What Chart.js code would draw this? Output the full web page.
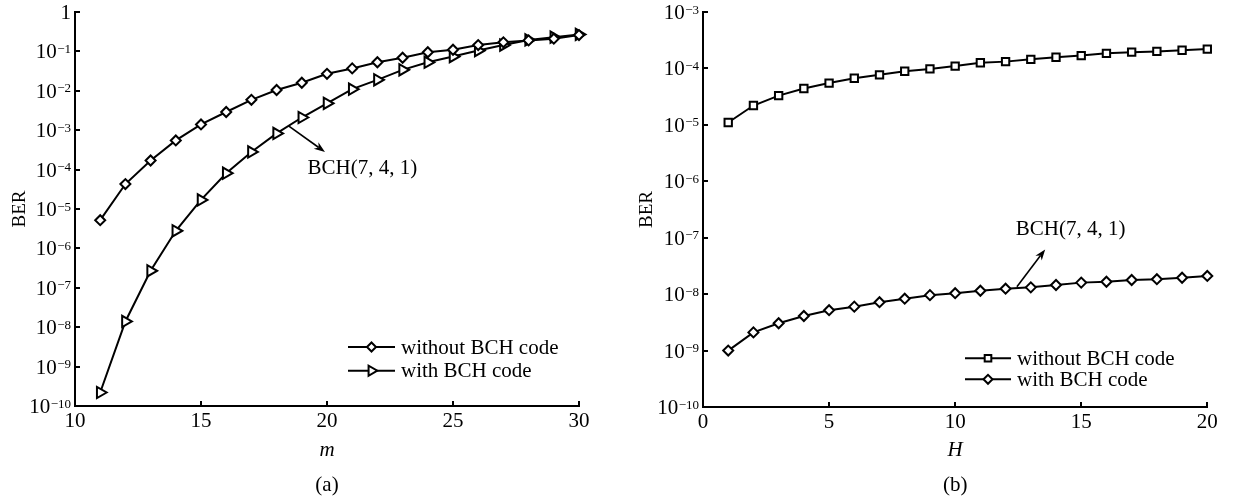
<!DOCTYPE html>
<html>
<head>
<meta charset="utf-8">
<script src="https://cdn.jsdelivr.net/npm/chart.js@4.4.0/dist/chart.umd.min.js"></script>
<style>
  html, body { margin: 0; padding: 0; background: #fff; }
  body { width: 1235px; height: 498px; position: relative; overflow: hidden; }
  .box { position: absolute; top: 0; height: 498px; }
  #boxA { left: 0; width: 617px; }
  #boxB { left: 617px; width: 618px; }
</style>
</head>
<body>
<div class="box" id="boxA"><canvas id="chartA"></canvas></div>
<div class="box" id="boxB"><canvas id="chartB"></canvas></div>
<script>
// ---------- data (a) ----------
const mValues = [11,12,13,14,15,16,17,18,19,20,21,22,23,24,25,26,27,28,29,30];
const berWithoutA = [5.2e-6, 4.3e-5, 1.7e-4, 5.5e-4, 1.4e-3, 2.9e-3, 5.9e-3, 1.05e-2, 1.6e-2, 2.7e-2,
                     3.7e-2, 5.3e-2, 6.9e-2, 9.5e-2, 0.11, 0.145, 0.17, 0.19, 0.21, 0.26];
const berWithA = [2.2e-10, 1.4e-8, 2.7e-7, 2.8e-6, 1.7e-5, 8.1e-5, 2.8e-4, 8.3e-4, 2.1e-3, 4.8e-3,
                  1.1e-2, 1.9e-2, 3.4e-2, 5.3e-2, 7.4e-2, 0.105, 0.145, 0.195, 0.23, 0.27];
const yTickValuesA = [1, 1e-1, 1e-2, 1e-3, 1e-4, 1e-5, 1e-6, 1e-7, 1e-8, 1e-9, 1e-10];
const yTickLabelsA = ['1', '10^\u22121', '10^\u22122', '10^\u22123', '10^\u22124', '10^\u22125',
                      '10^\u22126', '10^\u22127', '10^\u22128', '10^\u22129', '10^\u221210'];
const xTickLabelsA = ['10', '15', '20', '25', '30'];

// ---------- data (b) ----------
const hValues = [1,2,3,4,5,6,7,8,9,10,11,12,13,14,15,16,17,18,19,20];
const berWithoutB = [1.1e-5, 2.2e-5, 3.3e-5, 4.4e-5, 5.5e-5, 6.7e-5, 7.7e-5, 8.9e-5, 9.8e-5, 1.1e-4,
                     1.26e-4, 1.32e-4, 1.45e-4, 1.58e-4, 1.69e-4, 1.85e-4, 1.94e-4, 2.0e-4, 2.1e-4, 2.2e-4];
const berWithB = [1.0e-9, 2.1e-9, 3.05e-9, 4.1e-9, 5.2e-9, 6.0e-9, 7.2e-9, 8.3e-9, 9.6e-9, 1.04e-8,
                  1.15e-8, 1.25e-8, 1.32e-8, 1.45e-8, 1.6e-8, 1.66e-8, 1.78e-8, 1.84e-8, 1.95e-8, 2.1e-8];
const yTickValuesB = [1e-3, 1e-4, 1e-5, 1e-6, 1e-7, 1e-8, 1e-9, 1e-10];
const yTickLabelsB = ['10^\u22123', '10^\u22124', '10^\u22125', '10^\u22126', '10^\u22127',
                      '10^\u22128', '10^\u22129', '10^\u221210'];
const xTickLabelsB = ['0', '5', '10', '15', '20'];

const seriesNames = ['without BCH code', 'with BCH code'];
const annotationText = 'BCH(7, 4, 1)';

const FONT = '"Liberation Serif", "Times New Roman", serif';
const BLACK = '#000';

function toPoints(xs, ys) { return xs.map((x, i) => ({ x: x, y: ys[i] })); }

// plugin: y tick labels with superscripts, legend, annotation arrow, caption
const extras = {
  id: 'extras',
  afterDraw(chart, args, opts) {
    const ctx = chart.ctx;
    const xs = chart.scales.x, ys = chart.scales.y;
    ctx.save();

    // y tick labels (power-of-ten with superscript exponent)
    ctx.fillStyle = BLACK;
    const rightEdge = ys.right - 4;
    opts.yTicks.forEach((v, i) => {
      const py = ys.getPixelForValue(v);
      const parts = opts.yLabels[i].split('^');
      ctx.textAlign = 'right';
      ctx.textBaseline = 'alphabetic';
      if (parts.length === 1) {
        ctx.font = '21px ' + FONT;
        ctx.fillText(parts[0], rightEdge, py + 7);
      } else {
        ctx.font = '13px ' + FONT;
        const ew = ctx.measureText(parts[1]).width;
        ctx.fillText(parts[1], rightEdge, py + 1.5);
        ctx.font = '21px ' + FONT;
        ctx.fillText(parts[0], rightEdge - ew - 0.5, py + 7);
      }
    });

    // annotation
    const a = opts.arrow;
    const x1 = xs.getPixelForValue(a.from[0]), y1 = ys.getPixelForValue(a.from[1]);
    const x2 = xs.getPixelForValue(a.to[0]), y2 = ys.getPixelForValue(a.to[1]);
    const ang = Math.atan2(y2 - y1, x2 - x1);
    const hl = 11, hw = 4;
    ctx.strokeStyle = BLACK; ctx.fillStyle = BLACK; ctx.lineWidth = 1.6;
    ctx.beginPath();
    ctx.moveTo(x1, y1);
    ctx.lineTo(x2 - Math.cos(ang) * hl * 0.7, y2 - Math.sin(ang) * hl * 0.7);
    ctx.stroke();
    ctx.beginPath();
    ctx.moveTo(x2, y2);
    ctx.lineTo(x2 - Math.cos(ang) * hl + Math.sin(ang) * hw, y2 - Math.sin(ang) * hl - Math.cos(ang) * hw);
    ctx.lineTo(x2 - Math.cos(ang) * hl * 0.7, y2 - Math.sin(ang) * hl * 0.7);
    ctx.lineTo(x2 - Math.cos(ang) * hl - Math.sin(ang) * hw, y2 - Math.sin(ang) * hl + Math.cos(ang) * hw);
    ctx.closePath();
    ctx.fill();
    ctx.font = '21px ' + FONT;
    ctx.textBaseline = 'middle';
    ctx.textAlign = a.textAlign;
    ctx.fillText(annotationText, xs.getPixelForValue(a.text[0]), ys.getPixelForValue(a.text[1]));

    // legend
    const L = opts.legend;
    chart.data.datasets.forEach((ds, i) => {
      const y = L.y + i * L.dy;
      ctx.strokeStyle = BLACK; ctx.lineWidth = 2;
      ctx.beginPath(); ctx.moveTo(L.x1, y); ctx.lineTo(L.x2, y); ctx.stroke();
      ctx.fillStyle = '#fff'; ctx.strokeStyle = BLACK; ctx.lineWidth = 2;
      Chart.helpers.drawPoint(ctx, {
        pointStyle: ds.pointStyle, radius: ds.pointRadius * 0.9, rotation: ds.pointRotation || 0, borderWidth: 2
      }, (L.x1 + L.x2) / 2, y);
      ctx.fillStyle = BLACK;
      ctx.font = '21px ' + FONT;
      ctx.textAlign = 'left'; ctx.textBaseline = 'middle';
      ctx.fillText(ds.label, L.tx, y + 1);
    });

    // caption
    ctx.fillStyle = BLACK;
    ctx.font = '21px ' + FONT;
    ctx.textAlign = 'center'; ctx.textBaseline = 'middle';
    ctx.fillText(opts.caption, (chart.chartArea.left + chart.chartArea.right) / 2, 485);
    ctx.restore();
  }
};

function makeChart(id, cfg) {
  return new Chart(document.getElementById(id), {
    type: 'line',
    data: {
      datasets: [
        {
          label: seriesNames[0], data: cfg.d0,
          borderColor: BLACK, borderWidth: 2, backgroundColor: '#fff',
          pointStyle: cfg.s0, pointRadius: cfg.r0, pointRotation: cfg.rot0 || 0,
          pointBorderWidth: 2, pointBackgroundColor: '#fff', pointBorderColor: BLACK,
          tension: 0, clip: false
        },
        {
          label: seriesNames[1], data: cfg.d1,
          borderColor: BLACK, borderWidth: 2, backgroundColor: '#fff',
          pointStyle: cfg.s1, pointRadius: cfg.r1, pointRotation: cfg.rot1 || 0,
          pointBorderWidth: 2, pointBackgroundColor: '#fff', pointBorderColor: BLACK,
          tension: 0, clip: false
        }
      ]
    },
    options: {
      responsive: true,
      maintainAspectRatio: false,
      animation: false,
      events: [],
      layout: { padding: { left: 0, right: cfg.padRight, top: 12, bottom: 0 } },
      plugins: {
        legend: { display: false },
        tooltip: { enabled: false },
        extras: { arrow: cfg.arrow, legend: cfg.legend, caption: cfg.caption, yTicks: cfg.yTicks, yLabels: cfg.yLabels }
      },
      scales: {
        x: {
          type: 'linear', min: cfg.xMin, max: cfg.xMax,
          afterFit(s) { s.height = cfg.xHeight; },
          afterBuildTicks(s) { s.ticks = cfg.xLabels.map(v => ({ value: Number(v) })); },
          ticks: {
            autoSkip: false, maxRotation: 0, padding: 8, color: BLACK,
            font: { family: FONT, size: 21 },
            callback: (v, i) => cfg.xLabels[i]
          },
          grid: { drawOnChartArea: false, drawTicks: true, tickLength: -5, color: BLACK, lineWidth: 2 },
          border: { display: true, color: BLACK, width: 2 },
          title: {
            display: true, text: cfg.xTitle, color: BLACK,
            font: { family: FONT, size: 21, style: 'italic' },
            padding: { top: 0, bottom: 35.4 }
          }
        },
        y: {
          type: 'logarithmic', min: cfg.yMin, max: cfg.yMax,
          afterFit(s) { s.width = cfg.yWidth; },
          afterBuildTicks(s) { s.ticks = cfg.yTicks.map(v => ({ value: v })); },
          ticks: { display: false, autoSkip: false },
          grid: { drawOnChartArea: false, drawTicks: true, tickLength: -5, color: BLACK, lineWidth: 2 },
          border: { display: true, color: BLACK, width: 2 },
          title: {
            display: true, text: 'BER', color: BLACK,
            font: { family: FONT, size: 19 },
            padding: { top: cfg.yTitlePad, bottom: 0 }
          }
        }
      }
    },
    plugins: [extras]
  });
}

makeChart('chartA', {
  d0: toPoints(mValues, berWithoutA), d1: toPoints(mValues, berWithA),
  s0: 'rectRot', r0: 5, s1: 'triangle', r1: 6.5, rot1: 90,
  xMin: 10, xMax: 30, yMin: 1e-10, yMax: 1,
  xLabels: xTickLabelsA, yTicks: yTickValuesA, yLabels: yTickLabelsA,
  xTitle: 'm', caption: '(a)',
  padRight: 38, xHeight: 92, yWidth: 75, yTitlePad: 8.6,
  arrow: { from: [18.46, 1.3e-3], to: [19.92, 2.8e-4], text: [19.23, 1.07e-4], textAlign: 'left' },
  legend: { x1: 348, x2: 395, y: 347, dy: 23.7, tx: 401 }
});

makeChart('chartB', {
  d0: toPoints(hValues, berWithoutB), d1: toPoints(hValues, berWithB),
  s0: 'rect', r0: 5.2, s1: 'rectRot', r1: 5,
  xMin: 0, xMax: 20, yMin: 1e-10, yMax: 1e-3,
  xLabels: xTickLabelsB, yTicks: yTickValuesB, yLabels: yTickLabelsB,
  xTitle: 'H', caption: '(b)',
  padRight: 27.7, xHeight: 91, yWidth: 86, yTitlePad: 18.6,
  arrow: { from: [12.45, 1.35e-8], to: [13.57, 6.2e-8], text: [14.58, 1.38e-7], textAlign: 'center' },
  legend: { x1: 348, x2: 394, y: 358.3, dy: 21, tx: 400 }
});
</script>
</body>
</html>
